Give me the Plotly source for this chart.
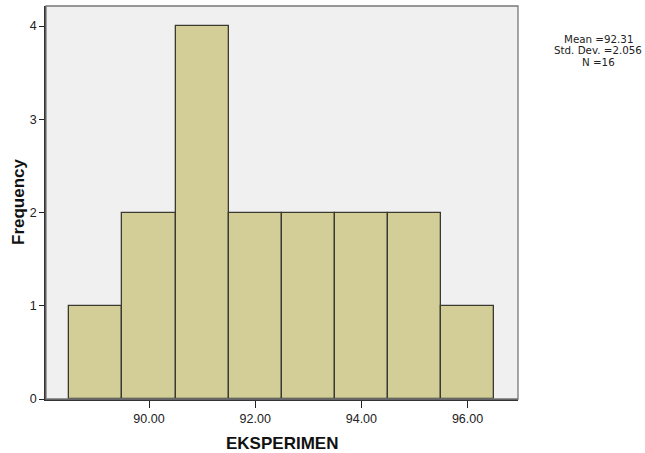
import plotly.graph_objects as go

bin_centers = [89, 90, 91, 92, 93, 94, 95, 96]
frequencies = [1, 2, 4, 2, 2, 2, 2, 1]
x_ticks = [90, 92, 94, 96]
x_tick_labels = ["90.00", "92.00", "94.00", "96.00"]
y_ticks = [0, 1, 2, 3, 4]
stats_lines = ["Mean =92.31", "Std. Dev. =2.056", "N =16"]
x_title = "EKSPERIMEN"
y_title = "Frequency"

W, H = 645, 453
L, R, T, B = 46, 127, 6, 54
PW, PH = W - L - R, H - T - B


def px_x(px):
    return (px - L) / PW


def px_y(py):
    return 1 - (py - T) / PH


fig = go.Figure()
fig.add_trace(go.Bar(
    x=bin_centers, y=frequencies, width=1,
    marker=dict(color="#D3CE97", line=dict(color="#3a3a30", width=1.3)),
    showlegend=False,
))

annotations = []
for i, line in enumerate(stats_lines):
    yc = 38.5 + i * 11.8
    annotations.append(dict(
        text=line, xref="paper", yref="paper",
        x=px_x(598), y=px_y(yc),
        xanchor="center", yanchor="middle", showarrow=False,
        font=dict(family="DejaVu Sans", size=10.3, color="#222"),
    ))
annotations.append(dict(
    text="<b>%s</b>" % x_title, xref="paper", yref="paper",
    x=px_x(282), y=px_y(443.5), xanchor="center", yanchor="middle",
    showarrow=False, font=dict(size=17, color="#111"),
))
annotations.append(dict(
    text="<b>%s</b>" % y_title, xref="paper", yref="paper",
    x=px_x(18), y=px_y(202), xanchor="center", yanchor="middle",
    textangle=-90, showarrow=False, font=dict(size=17, color="#111"),
))

fig.update_layout(
    width=W, height=H,
    margin=dict(l=L, r=R, t=T, b=B, pad=0),
    paper_bgcolor="white", plot_bgcolor="#F0F0F0",
    font=dict(family="Liberation Sans, Arial, sans-serif", size=12, color="#222"),
    bargap=0,
    xaxis=dict(
        range=[88.06, 96.95], tickvals=x_ticks, ticktext=x_tick_labels,
        ticks="outside", ticklen=7, tickwidth=1.3, tickcolor="#222",
        showgrid=False, zeroline=False, automargin=False,
        showline=True, linecolor="#333", linewidth=1.5,
        tickfont=dict(size=12.5),
    ),
    yaxis=dict(
        range=[0, 4.215], tickvals=y_ticks,
        ticks="outside", ticklen=5, tickwidth=1.3, tickcolor="#222",
        showgrid=False, zeroline=False, automargin=False,
        showline=True, linecolor="#333", linewidth=1.5,
        tickfont=dict(size=12.5),
    ),
    shapes=[dict(type="rect", xref="paper", yref="paper", x0=0, x1=1, y0=0, y1=1,
                 line=dict(color="#777", width=1.3), fillcolor="rgba(0,0,0,0)")],
    annotations=annotations,
)

fig.write_html("out.html", config={"displayModeBar": False},
               post_script="document.body.style.margin='0';document.body.style.overflow='hidden';")
